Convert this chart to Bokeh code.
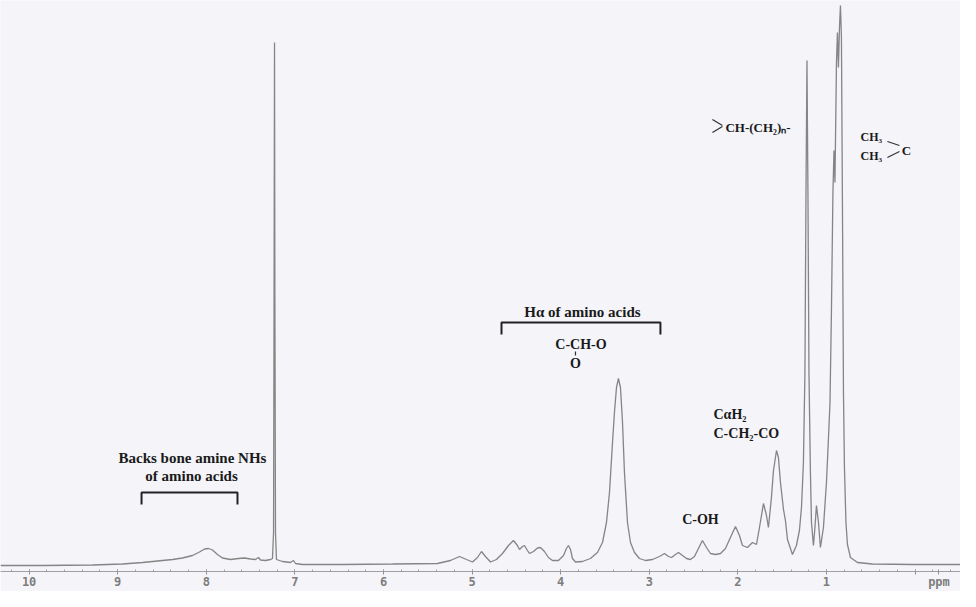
from bokeh.plotting import figure
from bokeh.models import Range1d, FixedTicker, ColumnDataSource
from bokeh.embed import file_html
from bokeh.resources import INLINE
from bokeh.core.properties import value

# ---- spectrum (ppm, relative intensity) ----
shift_ppm = [
    10.323, 9.849, 9.284, 8.946, 8.720, 8.494, 8.381, 8.269, 8.156, 8.077,
    8.020, 7.975, 7.930, 7.874, 7.817, 7.727, 7.637, 7.569, 7.501, 7.445,
    7.411, 7.388, 7.332, 7.275, 7.253, 7.241, 7.235, 7.230, 7.226, 7.219,
    7.208, 7.140, 7.050, 7.016, 6.993, 6.914, 6.463, 5.898, 5.391, 5.244,
    5.142, 5.063, 4.995, 4.939, 4.894, 4.849, 4.792, 4.725, 4.657, 4.589,
    4.533, 4.488, 4.465, 4.431, 4.409, 4.375, 4.352, 4.307, 4.262, 4.228,
    4.183, 4.138, 4.093, 4.025, 3.968, 3.935, 3.912, 3.889, 3.867, 3.833,
    3.754, 3.664, 3.585, 3.528, 3.483, 3.449, 3.415, 3.393, 3.370, 3.348,
    3.325, 3.302, 3.280, 3.246, 3.212, 3.167, 3.111, 3.043, 2.964, 2.885,
    2.828, 2.783, 2.749, 2.704, 2.670, 2.625, 2.580, 2.535, 2.490, 2.445,
    2.400, 2.354, 2.309, 2.253, 2.196, 2.140, 2.084, 2.027, 1.982, 1.948,
    1.892, 1.835, 1.790, 1.756, 1.711, 1.677, 1.655, 1.621, 1.598, 1.564,
    1.542, 1.519, 1.485, 1.463, 1.440, 1.384, 1.339, 1.305, 1.282, 1.260,
    1.243, 1.231, 1.220, 1.209, 1.1975, 1.181, 1.169, 1.147, 1.130, 1.113,
    1.090, 1.068, 1.034, 1.000, 0.977, 0.960, 0.944, 0.927, 0.915, 0.904,
    0.887, 0.876, 0.865, 0.853, 0.842, 0.831, 0.819, 0.808, 0.797, 0.780,
    0.763, 0.729, 0.650, 0.481, 0.029, -0.603,
]
intensity = [
    0, 0, 0.5, 1.5, 3, 5, 6, 7.5, 10, 13.5,
    16.5, 17, 15.5, 11, 7.5, 6, 7, 7.5, 6.5, 6,
    8, 5.5, 5, 6, 7, 33, 273, 523, 273, 33,
    6, 4, 3, 5, 2, 1, 1, 1.5, 2, 5,
    9, 6, 3.5, 8, 14, 9, 3.5, 6, 12, 20,
    25, 20, 16, 19, 20, 15, 12, 14, 17.5, 18,
    14, 8, 5, 5, 10, 17, 20, 16, 7, 3.5,
    4, 7, 13, 23, 43, 73, 123, 153, 178, 187,
    178, 143, 93, 43, 23, 13, 7, 5, 6, 9,
    12, 9, 8, 11, 13, 10, 7, 6, 9, 17,
    25, 18, 12, 11, 12, 17, 28, 39, 30, 20,
    18, 23, 21, 38, 62, 50, 38, 68, 95, 115,
    108, 83, 56, 45, 26, 11, 20, 35, 58, 103,
    193, 373, 505, 373, 193, 93, 43, 20, 38, 60,
    43, 18, 38, 83, 128, 163, 253, 373, 415, 383,
    503, 533, 498, 538, 560, 528, 353, 173, 98, 43,
    21, 8, 3, 1.5, 1, 1,
]

# ---- axis ----
tick_values = [10, 9, 8, 7, 6, 5, 4, 3, 2, 1, 0, -0.27]
tick_labels = ["10", "9", "8", "7", "6", "5", "4", "3", "2", "1", "", "ppm"]
minor_tick_values = [round(10.2 - 0.2 * i, 1) for i in range(55)]

# ---- annotations ----
label_text = ["Backs bone amine NHs", "of amino acids", "H\u03b1 of amino acids",
              "C-CH-O", "O", "C-OH", "C\u03b1H\u2082", "C-CH\u2082-CO",
              "CH-(CH\u2082)\u2099-", "CH\u2083", "CH\u2083", "C"]
label_ppm = [8.156, 8.167, 3.754, 3.771, 3.833, 2.422, 2.275, 2.275, 2.140, 0.616, 0.616, 0.097]
label_int = [108, 90, 254, 221, 202, 46, 151, 132, 438, 429, 409.5, 415.5]
label_size = ["15px", "15px", "15px", "14px", "14px", "14px", "14px", "14px",
              "13px", "12px", "12px", "13px"]
label_align = ["center", "center", "center", "center", "center", "center", "left", "left",
               "left", "left", "left", "center"]

bracket_ppm = [[8.731, 8.731, 7.648, 7.648], [4.668, 4.668, 2.874, 2.874]]
bracket_int = [[61, 73, 73, 61], [231, 243, 243, 231]]

stroke_ppm = [[3.833, 3.833], [2.287, 2.174], [2.287, 2.174], [0.312, 0.176], [0.312, 0.176]]
stroke_int = [[214, 210], [446, 440], [433, 439], [424, 420], [408, 414]]

BG = "#f4f4f9"
p = figure(width=960, height=591, output_backend="svg", toolbar_location=None,
           x_range=Range1d(10.323, -0.513), y_range=Range1d(-6, 565),
           min_border_left=0, min_border_right=0, min_border_top=0, min_border_bottom=0,
           background_fill_color=BG, border_fill_color=BG, outline_line_color=None)
p.grid.visible = False
p.yaxis.visible = False

p.line(shift_ppm, intensity, line_color="#858585", line_width=1.3)

src = ColumnDataSource(dict(x=label_ppm, y=label_int, text=label_text,
                            size=label_size, align=label_align))
p.text(x="x", y="y", text="text", source=src, text_font=value("Liberation Serif"),
       text_font_style="bold", text_font_size="size", text_align="align",
       text_baseline="middle", text_color="#1a1a1a")
p.multi_line(bracket_ppm, bracket_int, line_color="#222222", line_width=2)
p.multi_line(stroke_ppm, stroke_int, line_color="#333333", line_width=1.2)

ax = p.xaxis[0]
ax.ticker = FixedTicker(ticks=tick_values, minor_ticks=minor_tick_values)
ax.major_label_overrides = {v: s for v, s in zip(tick_values, tick_labels)}
ax.axis_line_color = "#a0a0a0"
ax.major_tick_line_color = "#909090"
ax.minor_tick_line_color = "#a0a0a0"
ax.major_tick_in = 2
ax.major_tick_out = 3
ax.minor_tick_in = 2
ax.minor_tick_out = 0
ax.major_label_standoff = 0
ax.major_label_text_font = "DejaVu Sans Mono"
ax.major_label_text_font_style = "bold"
ax.major_label_text_font_size = "12px"
ax.major_label_text_color = "#7d7d7d"

html = file_html(p, INLINE)
html = html.replace("<body>", '<body style="background:%s">' % BG, 1)
open("out.html", "w").write(html)
